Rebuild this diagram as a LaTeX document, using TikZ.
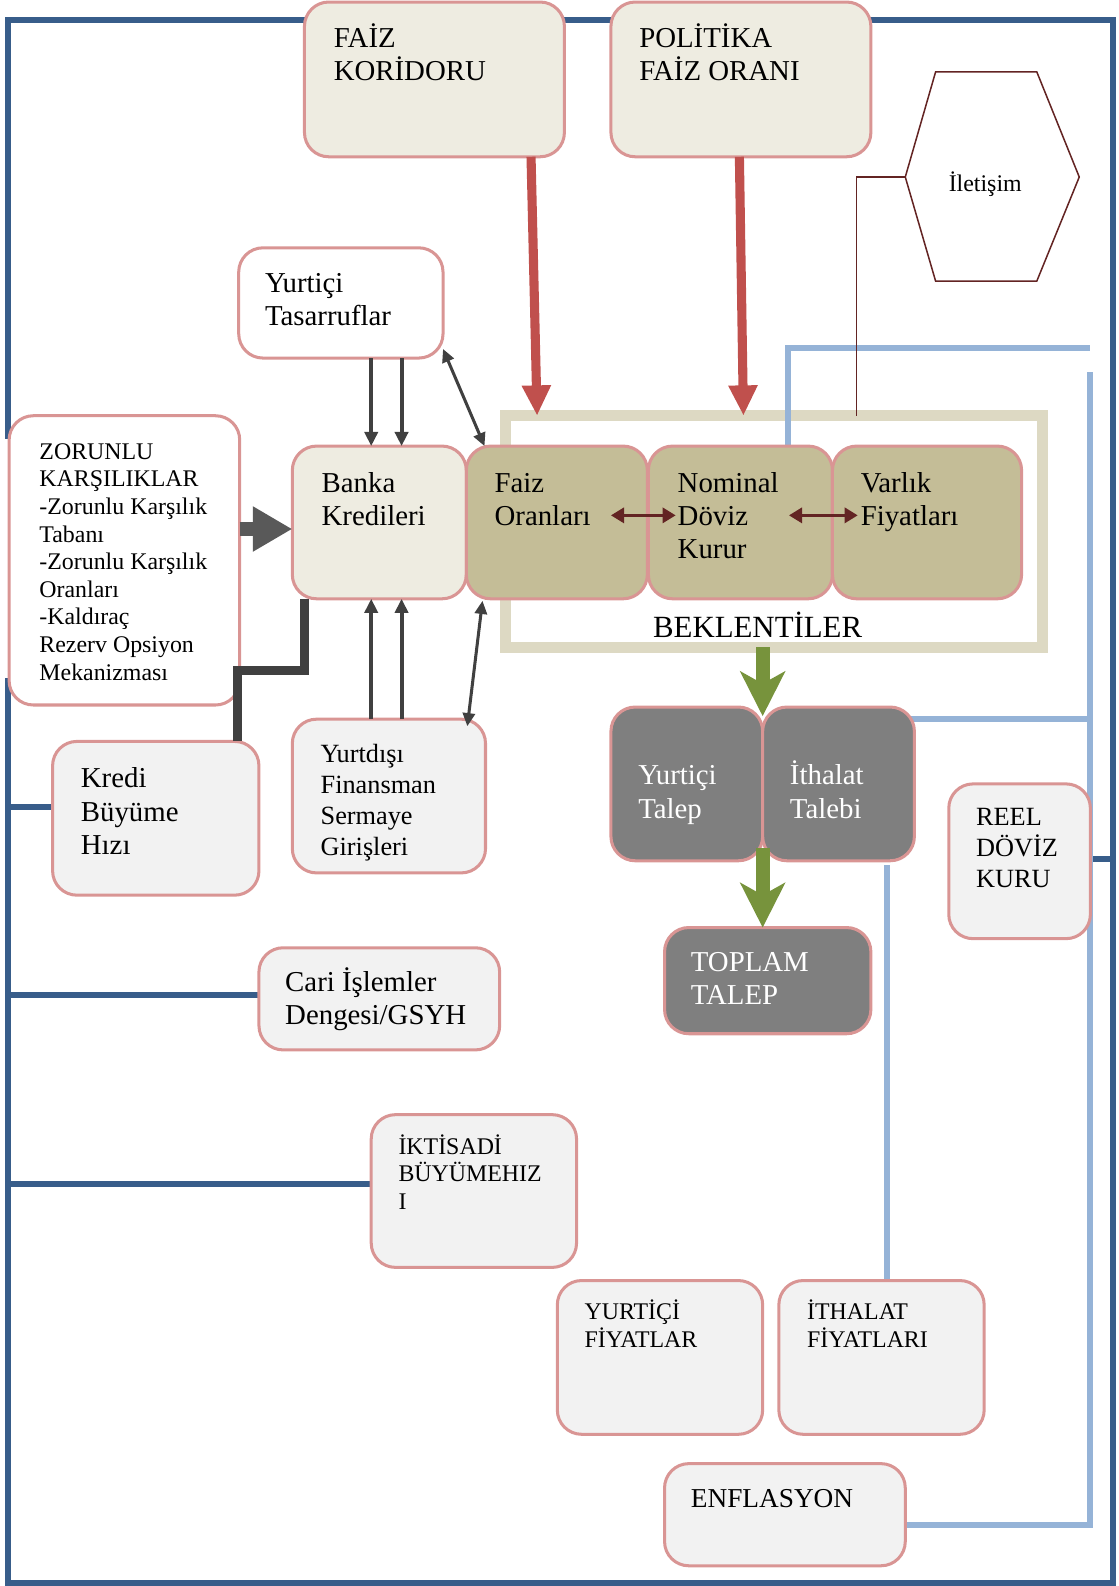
\documentclass[tikz,border=0pt]{standalone}
\usepackage{fontspec}
\setmainfont{Liberation Serif}
\usetikzlibrary{arrows.meta,calc}

\definecolor{frameblue}{HTML}{385D8A}
\definecolor{lineblue}{HTML}{95B3D7}
\definecolor{edgepink}{HTML}{D99594}
\definecolor{paper}{HTML}{EEECE1}
\definecolor{khaki}{HTML}{C4BD97}
\definecolor{bandC}{HTML}{DDD9C3}
\definecolor{slate}{HTML}{7F7F7F}
\definecolor{mist}{HTML}{F2F2F2}
\definecolor{policyred}{HTML}{C0504D}
\definecolor{wine}{HTML}{632423}
\definecolor{leaf}{HTML}{77933C}
\definecolor{ink}{HTML}{404040}
\definecolor{blockgrey}{HTML}{595959}

\newcommand\fL{\fontsize{28.5}{32.8}\selectfont}
\newcommand\fM{\fontsize{26}{30.5}\selectfont}
\newcommand\fS{\fontsize{23.6}{27.3}\selectfont}
\newcommand\fX{\fontsize{30.5}{35}\selectfont}
% left-aligned lines whose reference point is the first baseline
\newcommand\rows[1]{\vtop{\lineskiplimit=-\maxdimen\let\\\cr\halign{##\hfil\cr#1\crcr}}}

\pgfdeclarelayer{back}
\pgfsetlayers{back,main}

\begin{document}
\begin{tikzpicture}[x=1pt,y=-1pt,
  navy/.style={draw=frameblue, line width=6pt},
  sky/.style={draw=lineblue, line width=6pt},
  box/.style={draw=edgepink, line width=3pt, rounded corners=24pt, anchor=north west, inner sep=0pt, outer sep=0pt},
  boxtext/.style={anchor=base west, inner sep=0pt, outer sep=0pt},
  redarrow/.style={draw=policyred, line width=9pt, -{Triangle[length=30pt,width=27pt]}},
  inkarrow/.style={draw=ink, line width=4pt, -{Triangle[length=14pt,width=13pt]}},
  inkboth/.style={draw=ink, line width=3pt, {Triangle[length=13pt,width=12pt]}-{Triangle[length=13pt,width=12pt]}},
  blockarrow/.style={draw=blockgrey, line width=13pt, -{Triangle[length=39pt,width=42pt]}},
  creditlink/.style={draw=ink, line width=9pt},
  winearrow/.style={draw=wine, line width=3pt, {Triangle[length=13pt,width=15pt]}-{Triangle[length=13pt,width=15pt]}},
  wineline/.style={draw=wine, line width=1.5pt},
  greenarrow/.style={draw=leaf, line width=14pt, -{Stealth[length=44pt,width=44pt,inset=12pt]}},
]
\useasboundingbox (0,0) rectangle (1106,1568);

% outer frame and the expectations band
\begin{pgfonlayer}{back}
  \draw[navy] (8,434) -- (8,20) -- (1100,20) -- (1100,1565) -- (8,1565) -- (8,670);
  \node[draw=bandC, line width=11pt, anchor=north west, inner sep=0pt, outer sep=0pt,
        minimum width=531pt, minimum height=229pt] (bek) at (500,411) {};
\end{pgfonlayer}

% boxes
\node[box, fill=paper, minimum width=257pt, minimum height=153pt] (corr) at (301,2) {};
\node[box, fill=paper, minimum width=257pt, minimum height=153pt] (policy) at (604,2) {};
\node[box, fill=white, minimum width=202pt, minimum height=109pt] (sav) at (236,245) {};
\node[box, fill=white, minimum width=228pt, minimum height=286pt] (req) at (9,411) {};
\node[box, fill=paper, minimum width=172pt, minimum height=151pt] (bank) at (289,441) {};
\node[box, fill=khaki, minimum width=179pt, minimum height=151pt] (rate) at (461,441) {};
\node[box, fill=khaki, minimum width=182pt, minimum height=151pt] (fx) at (641,441) {};
\node[box, fill=khaki, minimum width=187pt, minimum height=151pt] (asset) at (823,441) {};
\node[box, fill=slate, minimum width=150pt, minimum height=152pt] (dom) at (604,699) {};
\node[box, fill=slate, minimum width=150pt, minimum height=152pt] (imp) at (754,699) {};
\node[box, fill=slate, minimum width=204pt, minimum height=105pt] (total) at (657,917) {};
\node[box, fill=mist, minimum width=204pt, minimum height=152pt] (credit) at (52,733) {};
\node[box, fill=mist, minimum width=191pt, minimum height=152pt] (abroad) at (289,711) {};
\node[box, fill=mist, minimum width=238pt, minimum height=101pt] (cur) at (256,937) {};
\node[box, fill=mist, minimum width=203pt, minimum height=151pt] (growth) at (367,1102) {};
\node[box, fill=mist, minimum width=203pt, minimum height=152pt] (dprice) at (551,1266) {};
\node[box, fill=mist, minimum width=203pt, minimum height=152pt] (iprice) at (770,1266) {};
\node[box, fill=mist, minimum width=238pt, minimum height=101pt] (infl) at (657,1447) {};
\node[box, fill=mist, minimum width=140pt, minimum height=153pt] (real) at (938,775) {};

% communication hexagon
\draw[wineline] (925,71) -- (1025,71) -- (1067,175) -- (1025,278) -- (925,278) -- (895,175) -- cycle;
\coordinate (hexW) at (895,175);

% texts
\node[boxtext, font=\fL] (corrT) at (330,47) {\rows{FAİZ\\KORİDORU}};
\node[boxtext, font=\fL] (policyT) at (632,47) {\rows{POLİTİKA\\FAİZ ORANI}};
\node[boxtext, font=\fS] (hexT) at (938,189) {İletişim};
\node[boxtext, font=\fL] (savT) at (262,289) {\rows{Yurtiçi\\Tasarruflar}};
\node[boxtext, font=\fS] (reqT) at (39,454) {\rows{ZORUNLU\\KARŞILIKLAR\\-Zorunlu Karşılık\\Tabanı\\-Zorunlu Karşılık\\Oranları\\-Kaldıraç\\Rezerv Opsiyon\\Mekanizması}};
\node[boxtext, font=\fL] (bankT) at (318,487) {\rows{Banka\\Kredileri}};
\node[boxtext, font=\fL] (rateT) at (489,487) {\rows{Faiz\\Oranları}};
\node[boxtext, font=\fL] (fxT) at (670,487) {\rows{Nominal\\Döviz\\Kurur}};
\node[boxtext, font=\fL] (assetT) at (851,487) {\rows{Varlık\\Fiyatları}};
\node[boxtext, anchor=base, font=\fX] (bekT) at (749,630) {BEKLENTİLER};
\node[boxtext, font=\fL, text=white] (domT) at (631,776) {\rows{Yurtiçi\\Talep}};
\node[boxtext, font=\fL, text=white] (impT) at (781,776) {\rows{İthalat\\Talebi}};
\node[boxtext, font=\fL] (creditT) at (80,779) {\rows{Kredi\\Büyüme\\Hızı}};
\node[boxtext, font=\fM] (abroadT) at (317,754) {\rows{Yurtdışı\\Finansman\\Sermaye\\Girişleri}};
\node[boxtext, font=\fM] (realT) at (965,816) {\rows{REEL\\DÖVİZ\\KURU}};
\node[boxtext, font=\fL, text=white] (totalT) at (683,960) {\rows{TOPLAM\\TALEP}};
\node[boxtext, font=\fL] (curT) at (282,980) {\rows{Cari İşlemler\\Dengesi/GSYH}};
\node[boxtext, font=\fS] (growthT) at (394,1141) {\rows{İKTİSADİ\\BÜYÜMEHIZ\\I}};
\node[boxtext, font=\fS] (dpriceT) at (578,1305) {\rows{YURTİÇİ\\FİYATLAR}};
\node[boxtext, font=\fS] (ipriceT) at (798,1305) {\rows{İTHALAT\\FİYATLARI}};
\node[boxtext, font=\fontsize{27}{31}\selectfont] (inflT) at (683,1490) {ENFLASYON};

% helper coordinates
\coordinate (lw) at (8,0);
\coordinate (rw) at (1100,0);
\coordinate (rv) at (1078,368);
\coordinate (skyTop) at (1078,344);
\coordinate (c1) at (367,0);
\coordinate (c2) at (397,0);

% connectors behind the boxes
\begin{pgfonlayer}{back}
  \coordinate (s1) at ($(credit.west)+(0,-11)$);
  \coordinate (s2) at ($(cur.west)+(0,-4)$);
  \coordinate (s3) at ($(growth.west)+(0,-7)$);
  \coordinate (s4) at ($(real.east)+(0,-2)$);
  \draw[navy] (s1) -- (s1 -| lw);
  \draw[navy] (s2) -- (s2 -| lw);
  \draw[navy] (s3) -- (s3 -| lw);
  \draw[navy] (s4) -- (s4 -| rw);
  \draw[sky] ($(fx.north west)+(138,0)$) |- (skyTop);
  \draw[sky] (rv) |- ($(infl.east)+(0,10)$);
  \coordinate (ia) at ($(imp.north east)+(-7,12)$);
  \draw[sky] (ia) -- (ia -| rv);
  \coordinate (ib) at ($(iprice.north west)+(107,0)$);
  \draw[sky] (ib) -- ($(ib |- imp.south)+(0,4)$);
  \coordinate (bekTap) at ($(bek.north west)+(347,0)$);
  \draw[wineline] (hexW) -| (bekTap);
\end{pgfonlayer}

% policy arrows
\draw[redarrow] ($(corr.south east)+(-33,0)$) -- ($(bek.north west)+(31,0)$);
\draw[redarrow] ($(policy.south east)+(-130,0)$) -- ($(bek.north west)+(235,0)$);

% flows into bank credits
\draw[inkarrow] (sav.south -| c1) -- (bank.north -| c1);
\draw[inkarrow] (sav.south -| c2) -- (bank.north -| c2);
\draw[inkarrow] (abroad.north -| c1) -- (bank.south -| c1);
\draw[inkarrow] (abroad.north -| c2) -- (bank.south -| c2);
\draw[inkboth] ($(sav.south east)+(0,-9)$) -- ($(rate.north west)+(18,0)$);
\draw[inkboth] ($(abroad.north east)+(-18,7)$) -- ($(rate.south west)+(16,2)$);

\coordinate (za) at ($(req.east)+(0,-31)$);
\draw[blockarrow] (za) -- (za -| bank.west);

\coordinate (kb) at ($(bank.south west)+(12,0)$);
\coordinate (kc) at ($(credit.north east)+(-21,0)$);
\draw[creditlink] (kb) |- ($(kc)+(0,-70)$) -- (kc);

% links between the expectation channels
\draw[winearrow] ($(rate.east)+(-36,-7)$) -- ($(fx.west)+(27,-7)$);
\draw[winearrow] ($(fx.east)+(-43,-7)$) -- ($(asset.west)+(25,-7)$);

% demand arrows
\draw[greenarrow] (dom.north east |- bek.south) -- ($(dom.north east)+(0,9)$);
\draw[greenarrow] ($(dom.south east)+(0,-13)$) -- (dom.south east |- total.north);
\end{tikzpicture}
\end{document}
